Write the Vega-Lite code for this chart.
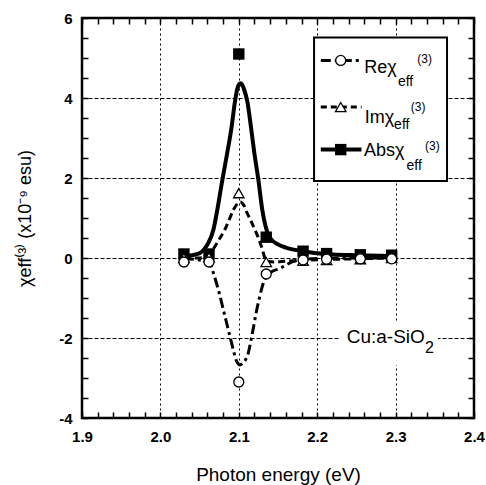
{
  "$schema": "https://vega.github.io/schema/vega-lite/v6.json",
  "width": 392,
  "height": 400,
  "autosize": "none",
  "padding": {"left": 82, "top": 18, "right": 12, "bottom": 67},
  "background": "white",
  "config": {
    "view": {"stroke": "black", "strokeWidth": 2.5},
    "font": "Liberation Sans",
    "text": {"font": "Liberation Sans", "color": "black"}
  },
  "datasets": {
    "abs_fit": [
      {"x": 2.03, "y": 0.05}, {"x": 2.04, "y": 0.07}, {"x": 2.05, "y": 0.12}, {"x": 2.055, "y": 0.2},
      {"x": 2.061, "y": 0.37}, {"x": 2.0675, "y": 0.7}, {"x": 2.073, "y": 1.25}, {"x": 2.079, "y": 1.95},
      {"x": 2.085, "y": 2.6}, {"x": 2.091, "y": 3.3}, {"x": 2.095, "y": 3.9}, {"x": 2.098, "y": 4.22},
      {"x": 2.1, "y": 4.33}, {"x": 2.102, "y": 4.37}, {"x": 2.104, "y": 4.34}, {"x": 2.107, "y": 4.2},
      {"x": 2.111, "y": 3.9}, {"x": 2.116, "y": 3.2},
      {"x": 2.12, "y": 2.6}, {"x": 2.125, "y": 1.95}, {"x": 2.13, "y": 1.2}, {"x": 2.1355, "y": 0.7},
      {"x": 2.14, "y": 0.5}, {"x": 2.15, "y": 0.34}, {"x": 2.16, "y": 0.26}, {"x": 2.17, "y": 0.21},
      {"x": 2.182, "y": 0.17}, {"x": 2.2, "y": 0.12}, {"x": 2.22, "y": 0.09}, {"x": 2.25, "y": 0.07},
      {"x": 2.295, "y": 0.05}
    ],
    "im_fit": [
      {"x": 2.03, "y": 0.0}, {"x": 2.05, "y": 0.0}, {"x": 2.058, "y": 0.03}, {"x": 2.065, "y": 0.15},
      {"x": 2.07, "y": 0.3}, {"x": 2.076, "y": 0.5}, {"x": 2.082, "y": 0.7}, {"x": 2.088, "y": 0.97},
      {"x": 2.093, "y": 1.2}, {"x": 2.097, "y": 1.33}, {"x": 2.1, "y": 1.39}, {"x": 2.102, "y": 1.4},
      {"x": 2.104, "y": 1.38}, {"x": 2.107, "y": 1.3},
      {"x": 2.11, "y": 1.15}, {"x": 2.115, "y": 0.95}, {"x": 2.1207, "y": 0.7}, {"x": 2.125, "y": 0.5},
      {"x": 2.129, "y": 0.28}, {"x": 2.1355, "y": -0.08}, {"x": 2.145, "y": -0.1}, {"x": 2.16, "y": -0.08},
      {"x": 2.18, "y": -0.06}, {"x": 2.21, "y": -0.04}, {"x": 2.25, "y": -0.02}, {"x": 2.295, "y": 0.0}
    ],
    "re_fit": [
      {"x": 2.03, "y": -0.02}, {"x": 2.05, "y": -0.05}, {"x": 2.063, "y": -0.13}, {"x": 2.068, "y": -0.4},
      {"x": 2.074, "y": -0.8}, {"x": 2.081, "y": -1.35}, {"x": 2.0888, "y": -1.97}, {"x": 2.093, "y": -2.3},
      {"x": 2.096, "y": -2.52}, {"x": 2.099, "y": -2.64}, {"x": 2.1015, "y": -2.675}, {"x": 2.105, "y": -2.63},
      {"x": 2.109, "y": -2.53}, {"x": 2.112, "y": -2.38},
      {"x": 2.1164, "y": -1.97}, {"x": 2.1237, "y": -1.22}, {"x": 2.1334, "y": -0.52}, {"x": 2.14, "y": -0.37},
      {"x": 2.1526, "y": -0.26}, {"x": 2.169, "y": -0.09}, {"x": 2.18, "y": -0.04}, {"x": 2.2, "y": -0.01},
      {"x": 2.295, "y": 0.0}
    ],
    "re_pts": [
      {"x": 2.03, "y": -0.1}, {"x": 2.062, "y": -0.1}, {"x": 2.1, "y": -3.1}, {"x": 2.135, "y": -0.4},
      {"x": 2.182, "y": -0.05}, {"x": 2.212, "y": -0.03}, {"x": 2.255, "y": -0.02}, {"x": 2.295, "y": -0.02}
    ],
    "im_pts": [
      {"x": 2.03, "y": 0.0}, {"x": 2.062, "y": 0.02}, {"x": 2.1, "y": 1.62}, {"x": 2.135, "y": -0.1},
      {"x": 2.182, "y": -0.07}, {"x": 2.212, "y": -0.05}, {"x": 2.255, "y": -0.03}, {"x": 2.295, "y": 0.0}
    ],
    "abs_pts": [
      {"x": 2.03, "y": 0.1}, {"x": 2.062, "y": 0.1}, {"x": 2.1, "y": 5.1}, {"x": 2.135, "y": 0.52},
      {"x": 2.182, "y": 0.17}, {"x": 2.212, "y": 0.11}, {"x": 2.255, "y": 0.08}, {"x": 2.295, "y": 0.07}
    ]
  },
  "resolve": {"axis": {"x": "independent", "y": "independent"}},
  "layer": [
    {
      "layer": [
        {
          "mark": {"type": "rule", "color": "black", "strokeWidth": 2},
          "encoding": {"y": {"datum": 0, "type": "quantitative"}}
        },
        {
          "data": {"name": "abs_fit"},
          "mark": {"type": "line", "color": "black", "strokeWidth": 4, "interpolate": "monotone"},
          "encoding": {
            "x": {
              "field": "x", "type": "quantitative",
              "scale": {"domain": [1.9, 2.4], "nice": false, "zero": false},
              "axis": {
                "orient": "bottom",
                "offset": -6,
                "values": [1.9, 1.92, 1.94, 1.96, 1.98, 2.0, 2.02, 2.04, 2.06, 2.08, 2.1, 2.12, 2.14, 2.16, 2.18, 2.2, 2.22, 2.24, 2.26, 2.28, 2.3, 2.32, 2.34, 2.36, 2.38, 2.4],
                "tickCount": 100,
                "labelExpr": "abs(datum.value*10 - round(datum.value*10)) < 0.001 ? format(datum.value, '.1f') : ''",
                "labelFlush": false, "labelOverlap": false,
                "labelFont": "Liberation Sans", "labelFontSize": 15, "labelFontWeight": "bold", "labelColor": "black",
                "labelPadding": 11,
                "ticks": true, "tickSize": 6, "tickColor": "#000000", "tickWidth": 1.5, "tickOpacity": 1,
                "domain": false,
                "grid": true, "gridColor": "black", "gridWidth": 1, "gridDash": [2, 3],
                "gridOpacity": {"condition": {"test": "abs(datum.value*10 - round(datum.value*10)) < 0.001", "value": 1}, "value": 0},
                "title": "Photon energy (eV)",
                "titleFont": "Liberation Sans", "titleFontSize": 19, "titleFontWeight": "normal", "titleColor": "black",
                "titlePadding": 21
              }
            },
            "y": {
              "field": "y", "type": "quantitative",
              "scale": {"domain": [-4, 6], "nice": false, "zero": false},
              "axis": {
                "orient": "left",
                "offset": -6,
                "values": [-4, -3.5, -3, -2.5, -2, -1.5, -1, -0.5, 0, 0.5, 1, 1.5, 2, 2.5, 3, 3.5, 4, 4.5, 5, 5.5, 6],
                "tickCount": 100,
                "labelExpr": "abs(datum.value/2 - round(datum.value/2)) < 0.001 ? toString(datum.value) : ''",
                "labelOverlap": false, "labelFlush": false,
                "labelFont": "Liberation Sans", "labelFontSize": 15, "labelFontWeight": "bold", "labelColor": "black",
                "labelPadding": 10,
                "ticks": true, "tickSize": 6, "tickColor": "#000000", "tickWidth": 1.5, "tickOpacity": 1,
                "domain": false,
                "grid": true, "gridColor": "black", "gridWidth": 1, "gridDash": [4, 2],
                "gridOpacity": {"condition": {"test": "abs(datum.value/2 - round(datum.value/2)) < 0.001", "value": 1}, "value": 0},
                "title": "χeff⁽³⁾ (x10⁻⁹ esu)",
                "titleFont": "Liberation Sans", "titleFontSize": 18, "titleFontWeight": "normal", "titleColor": "black",
                "titlePadding": 24
              }
            }
          }
        },
        {
          "data": {"name": "im_fit"},
          "mark": {"type": "line", "color": "black", "strokeWidth": 3, "strokeDash": [7, 4], "interpolate": "monotone"},
          "encoding": {"x": {"field": "x", "type": "quantitative"}, "y": {"field": "y", "type": "quantitative"}}
        },
        {
          "data": {"name": "re_fit"},
          "mark": {"type": "line", "color": "black", "strokeWidth": 3, "strokeDash": [10, 4, 3, 4], "interpolate": "monotone"},
          "encoding": {"x": {"field": "x", "type": "quantitative"}, "y": {"field": "y", "type": "quantitative"}}
        },
        {
          "data": {"name": "abs_pts"},
          "mark": {"type": "point", "shape": "square", "filled": true, "color": "black", "opacity": 1, "size": 130},
          "encoding": {"x": {"field": "x", "type": "quantitative"}, "y": {"field": "y", "type": "quantitative"}}
        },
        {
          "data": {"name": "im_pts"},
          "mark": {"type": "point", "shape": "triangle-up", "filled": false, "fill": "white", "fillOpacity": 1, "stroke": "black", "strokeWidth": 1.3, "opacity": 1, "size": 110},
          "encoding": {"x": {"field": "x", "type": "quantitative"}, "y": {"field": "y", "type": "quantitative"}}
        },
        {
          "data": {"name": "re_pts"},
          "mark": {"type": "point", "shape": "circle", "filled": false, "fill": "white", "fillOpacity": 1, "stroke": "black", "strokeWidth": 1.3, "opacity": 1, "size": 100},
          "encoding": {"x": {"field": "x", "type": "quantitative"}, "y": {"field": "y", "type": "quantitative"}}
        },
        {
          "data": {"values": [{"x": 2.229, "x2": 2.354, "y": -1.575, "y2": -2.675}]},
          "mark": {"type": "rect", "fill": "white"},
          "encoding": {
            "x": {"field": "x", "type": "quantitative"}, "x2": {"field": "x2"},
            "y": {"field": "y", "type": "quantitative"}, "y2": {"field": "y2"}
          }
        },
        {
          "data": {"values": [{"x": 2.2376, "y": -1.97, "t": "Cu:a-SiO"}]},
          "mark": {"type": "text", "align": "left", "baseline": "middle", "fontSize": 19},
          "encoding": {"x": {"field": "x", "type": "quantitative"}, "y": {"field": "y", "type": "quantitative"}, "text": {"field": "t"}}
        },
        {
          "data": {"values": [{"x": 2.3375, "y": -2.24, "t": "2"}]},
          "mark": {"type": "text", "align": "left", "baseline": "middle", "fontSize": 16},
          "encoding": {"x": {"field": "x", "type": "quantitative"}, "y": {"field": "y", "type": "quantitative"}, "text": {"field": "t"}}
        }
      ]
    },
    {
      "layer": [
        {
          "data": {"values": [{"x": 2.196, "x2": 2.3656, "y": 5.51, "y2": 1.925}]},
          "mark": {"type": "rect", "fill": "white", "stroke": "black", "strokeWidth": 2},
          "encoding": {
            "x": {
              "field": "x", "type": "quantitative",
              "scale": {"domain": [1.9, 2.4], "nice": false, "zero": false},
              "axis": {
                "orient": "top",
                "offset": -6,
                "zindex": 1,
                "values": [1.9, 1.92, 1.94, 1.96, 1.98, 2.0, 2.02, 2.04, 2.06, 2.08, 2.1, 2.12, 2.14, 2.16, 2.18, 2.2, 2.22, 2.24, 2.26, 2.28, 2.3, 2.32, 2.34, 2.36, 2.38, 2.4],
                "tickCount": 100,
                "labels": false, "grid": false, "domain": false,
                "ticks": true, "tickSize": 6, "tickColor": "#000000", "tickWidth": 1.5, "tickOpacity": 1, "title": null
              }
            },
            "x2": {"field": "x2"},
            "y": {
              "field": "y", "type": "quantitative",
              "scale": {"domain": [-4, 6], "nice": false, "zero": false},
              "axis": {
                "orient": "right",
                "offset": -6,
                "zindex": 1,
                "values": [-4, -3.5, -3, -2.5, -2, -1.5, -1, -0.5, 0, 0.5, 1, 1.5, 2, 2.5, 3, 3.5, 4, 4.5, 5, 5.5, 6],
                "tickCount": 100,
                "labels": false, "grid": false, "domain": false,
                "ticks": true, "tickSize": 6, "tickColor": "#000000", "tickWidth": 1.5, "tickOpacity": 1, "title": null
              }
            },
            "y2": {"field": "y2"}
          }
        },
        {
          "data": {"values": [{"x": 2.2046, "x2": 2.2565, "y": 4.94}]},
          "mark": {"type": "rule", "color": "black", "strokeWidth": 3, "strokeDash": [10, 4, 3, 4]},
          "encoding": {"x": {"field": "x", "type": "quantitative"}, "x2": {"field": "x2"}, "y": {"field": "y", "type": "quantitative"}}
        },
        {
          "data": {"values": [{"x": 2.2046, "x2": 2.2565, "y": 3.775}]},
          "mark": {"type": "rule", "color": "black", "strokeWidth": 3, "strokeDash": [6, 4]},
          "encoding": {"x": {"field": "x", "type": "quantitative"}, "x2": {"field": "x2"}, "y": {"field": "y", "type": "quantitative"}}
        },
        {
          "data": {"values": [{"x": 2.2046, "x2": 2.2565, "y": 2.71}]},
          "mark": {"type": "rule", "color": "black", "strokeWidth": 4},
          "encoding": {"x": {"field": "x", "type": "quantitative"}, "x2": {"field": "x2"}, "y": {"field": "y", "type": "quantitative"}}
        },
        {
          "data": {"values": [{"x": 2.23, "y": 2.71}]},
          "mark": {"type": "point", "shape": "square", "filled": true, "color": "black", "opacity": 1, "size": 130},
          "encoding": {"x": {"field": "x", "type": "quantitative"}, "y": {"field": "y", "type": "quantitative"}}
        },
        {
          "data": {"values": [{"x": 2.23, "y": 3.775}]},
          "mark": {"type": "point", "shape": "triangle-up", "filled": false, "fill": "white", "fillOpacity": 1, "stroke": "black", "strokeWidth": 1.3, "opacity": 1, "size": 110},
          "encoding": {"x": {"field": "x", "type": "quantitative"}, "y": {"field": "y", "type": "quantitative"}}
        },
        {
          "data": {"values": [{"x": 2.23, "y": 4.94}]},
          "mark": {"type": "point", "shape": "circle", "filled": false, "fill": "white", "fillOpacity": 1, "stroke": "black", "strokeWidth": 1.3, "opacity": 1, "size": 100},
          "encoding": {"x": {"field": "x", "type": "quantitative"}, "y": {"field": "y", "type": "quantitative"}}
        },
        {
          "data": {"values": [
            {"x": 2.2601, "y": 4.74, "t": "Reχ"},
            {"x": 2.2606, "y": 3.51, "t": "Imχ"},
            {"x": 2.2597, "y": 2.675, "t": "Absχ"}
          ]},
          "mark": {"type": "text", "align": "left", "baseline": "middle", "fontSize": 18},
          "encoding": {"x": {"field": "x", "type": "quantitative"}, "y": {"field": "y", "type": "quantitative"}, "text": {"field": "t"}}
        },
        {
          "data": {"values": [
            {"x": 2.303, "y": 4.4, "t": "eff"},
            {"x": 2.2981, "y": 3.325, "t": "eff"},
            {"x": 2.3139, "y": 2.3, "t": "eff"}
          ]},
          "mark": {"type": "text", "align": "left", "baseline": "middle", "fontSize": 14},
          "encoding": {"x": {"field": "x", "type": "quantitative"}, "y": {"field": "y", "type": "quantitative"}, "text": {"field": "t"}}
        },
        {
          "data": {"values": [
            {"x": 2.3277, "y": 4.975, "t": "(3)"},
            {"x": 2.3193, "y": 3.78, "t": "(3)"},
            {"x": 2.3375, "y": 2.8, "t": "(3)"}
          ]},
          "mark": {"type": "text", "align": "left", "baseline": "middle", "fontSize": 12},
          "encoding": {"x": {"field": "x", "type": "quantitative"}, "y": {"field": "y", "type": "quantitative"}, "text": {"field": "t"}}
        }
      ]
    }
  ]
}
